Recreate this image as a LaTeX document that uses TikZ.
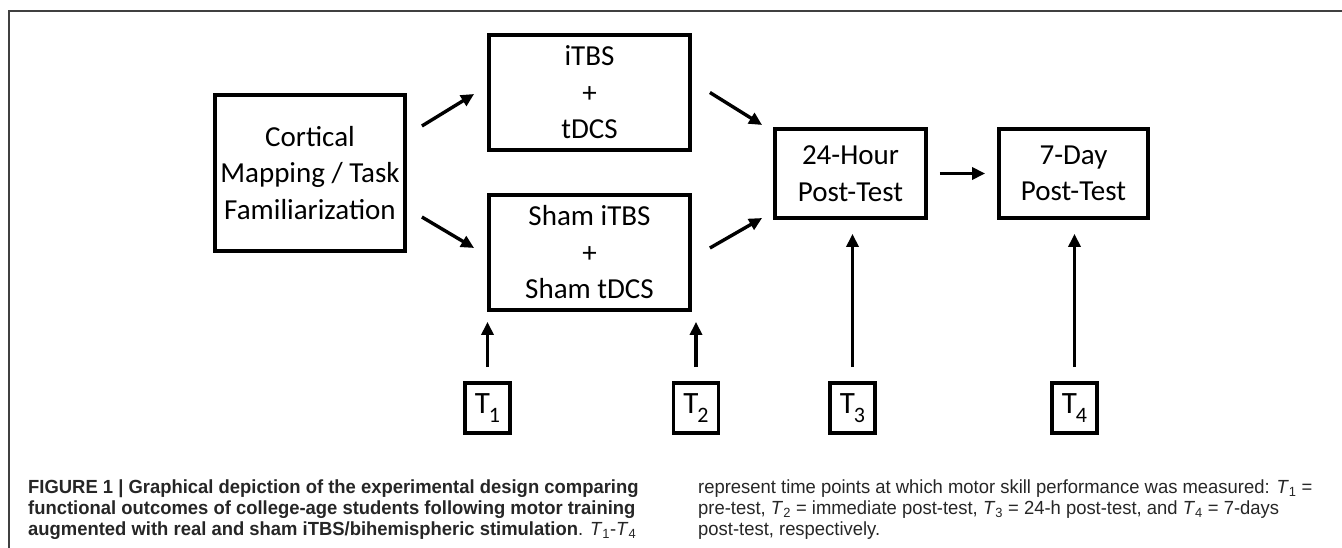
\documentclass[tikz,border=0pt]{standalone}
\usepackage{fontspec}
\setmainfont{Carlito}
\newfontfamily\capfont[FakeStretch=0.97]{Liberation Sans}
\usetikzlibrary{shapes,arrows.meta,positioning}
\tikzstyle{block} = [rectangle, draw, line width=3.8pt, align=center,
inner sep=0pt, font=\fontsize{29}{36.5}\selectfont]
\tikzstyle{tbox} = [block, minimum width=45pt, minimum height=50pt, font=\fontsize{31}{31}\selectfont]
\tikzstyle{line} = [draw, line width=3.4pt, -{Triangle[length=13pt,width=12pt]}]
\tikzstyle{frame} = [draw=black!75, line width=1.2pt]
\tikzstyle{caption} = [anchor=base west, inner sep=0pt, text=black!85,
font=\capfont\fontsize{19}{21}\selectfont]
\newcommand{\tpoint}[1]{T\kern-1pt\raisebox{-9pt}{\fontsize{22}{22}\selectfont #1}}
\newcommand{\capT}[1]{\textit{T}\textsubscript{#1}}

\begin{document}
\begin{tikzpicture}[x=1pt, y=-1pt]
	\useasboundingbox (0,0) rectangle (1342,548);
	
	% Figure frame
	\draw [frame] (9,548) -- (9,11) -- (1342,11);
	
	% Main nodes
	\node [block, minimum width=190pt, minimum height=156pt] (cortical) at (310,173)
	{Cortical\\Mapping / Task\\Familiarization};
	\node [block, minimum width=201pt, minimum height=115pt] (itbs) at (589.5,92.5)
	{iTBS\\+\\tDCS};
	\node [block, minimum width=201pt, minimum height=115pt] (sham) at (589.5,252.5)
	{Sham iTBS\\+\\Sham tDCS};
	\node [block, minimum width=151pt, minimum height=89pt] (hour) at (850.5,173.5)
	{24-Hour\\Post-Test};
	\node [block, minimum width=149pt, minimum height=89pt] (day) at (1073.5,173.5)
	{7-Day\\Post-Test};
	
	% Time points
	\node [tbox] (t1) at (487.5,408) {\tpoint{1}};
	\node [tbox] (t2) at (696,408) {\tpoint{2}};
	\node [tbox] (t3) at (852.5,408) {\tpoint{3}};
	\node [tbox] (t4) at (1074.5,408) {\tpoint{4}};
	
	% Edges
	\path [line] ([xshift=15pt,yshift=47pt]cortical.east) -- ([xshift=-13pt,yshift=-1.5pt]itbs.west);
	\path [line] ([xshift=15pt,yshift=-44pt]cortical.east) -- ([xshift=-13pt,yshift=4.5pt]sham.west);
	\path [line] ([xshift=18pt]itbs.east) -- ([xshift=-11pt,yshift=48.5pt]hour.west);
	\path [line] ([xshift=18pt,yshift=4.5pt]sham.east) -- ([xshift=-11pt,yshift=-44.5pt]hour.west);
	\path [line, shorten <=12pt, shorten >=12pt] (hour) -- (day);
	\path [line, shorten <=14pt, shorten >=10pt] (t1.north) -- (t1.north |- sham.south);
	\path [line, shorten <=14pt, shorten >=10pt] (t2.north) -- (t2.north |- sham.south);
	\path [line, shorten <=14pt, shorten >=14pt] (t3.north) -- (t3.north |- hour.south);
	\path [line, shorten <=14pt, shorten >=14pt] (t4.north) -- (t4.north |- day.south);
	
	% Caption, left column
	\node [caption] (capl1) at (28,493)
	{\bfseries FIGURE 1 | Graphical depiction of the experimental design comparing};
	\node [caption] (capl2) at (28,514)
	{\bfseries functional outcomes of college-age students following motor training};
	\node [caption] (capl3) at (28,535)
	{\bfseries augmented with real and sham iTBS/bihemispheric stimulation\mdseries. \capT{1}-\capT{4}};
	
	% Caption, right column
	\node [caption] (capr1) at (698,493)
	{represent time points at which motor skill performance was measured: \capT{1} =};
	\node [caption] (capr2) at (698,514)
	{pre-test, \capT{2} = immediate post-test, \capT{3} = 24-h post-test, and \capT{4} = 7-days};
	\node [caption] (capr3) at (698,535)
	{post-test, respectively.};
	
\end{tikzpicture}
\end{document}
